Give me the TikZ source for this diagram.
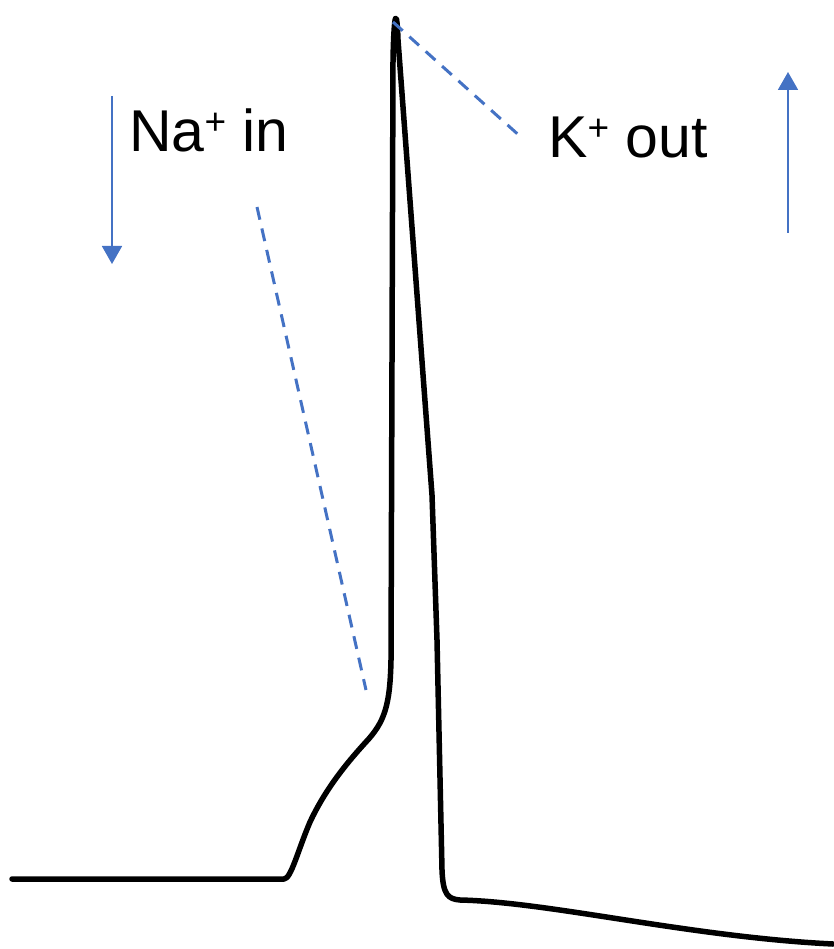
\documentclass[tikz,border=0pt]{standalone}
\usepackage{fontspec}
\setmainfont{Liberation Sans}
\usetikzlibrary{arrows.meta}
\definecolor{ion}{HTML}{4472C4}
\newcommand{\ionplus}{\raisebox{17pt}{\fontsize{37}{37}\selectfont+}}

\begin{document}
\begin{tikzpicture}[x=1pt,y=-1pt,>={Triangle[width=20pt,length=18pt]},
  trace/.style={line width=5.5pt,line join=round,line cap=round},
  guide/.style={ion,line width=3pt,dash pattern=on 13pt off 9pt},
  flow/.style={ion,line width=1.8pt,->},
  lab/.style={anchor=base west,inner sep=0pt,font=\fontsize{59}{59}\selectfont}]
  \useasboundingbox (0,0) rectangle (833,949);
  % action potential trace
  \draw[trace] (12,879) -- (284,879)
    .. controls (291,879) and (298,850) .. (310,822)
    .. controls (325,790) and (345,765) .. (365,743)
    .. controls (385,722) and (390,705) .. (391,660)
    -- (393,60)
    .. controls (394,8) and (397,8) .. (398,40)
    -- (432,495) -- (437,640) -- (442,870)
    .. controls (443,895) and (448,899) .. (460,900)
    .. controls (550,902) and (690,937) .. (833,944);
  % dashed guides
  \coordinate (na top) at (257,207);
  \coordinate (na bot) at (366,690);
  \coordinate (k top) at (393,22);
  \coordinate (k bot) at (522,138);
  \draw[guide] (na top) -- (na bot);
  \draw[guide] (k top) -- (k bot);
  % labels
  \node[lab] (na) at (129,152) {Na\ionplus{} in};
  \node[lab] (k) at (548,158) {K\ionplus{} out};
  % ion flow arrows
  \coordinate (na from) at (112,96);
  \coordinate (na to) at (112,264);
  \coordinate (k from) at (788,233);
  \coordinate (k to) at (788,72);
  \draw[flow] (na from) -- (na to);
  \draw[flow] (k from) -- (k to);
\end{tikzpicture}
\end{document}
